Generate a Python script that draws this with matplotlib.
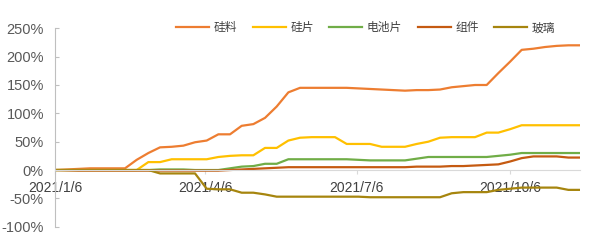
import numpy as np
import pandas as pd
import matplotlib
matplotlib.use('Agg')
import matplotlib.pyplot as plt
import matplotlib.dates as mdates
from matplotlib.ticker import FuncFormatter

plt.rcParams['font.family'] = ['Liberation Sans', 'Noto Sans CJK SC']

# weekly price change since 2021/1/6, in percent
dates = pd.date_range('2021-01-06', periods=46, freq='7D')

silicon = [0, 1, 2, 3, 3, 3, 3, 18, 30, 40, 41, 43, 49, 52, 63, 63,
           78, 81, 92, 112, 137, 145, 145, 145, 145, 145, 144, 143, 142, 141, 140, 141,
           141, 142, 146, 148, 150, 150, 171, 191, 212, 214, 217, 219, 220, 220]
wafer = [0, 0, 0, 0, 0, 0, 0, 0, 14, 14, 19, 19, 19, 19, 23, 25,
         26, 26, 39, 39, 52, 57, 58, 58, 58, 46, 46, 46, 41, 41, 41, 46,
         50, 57, 58, 58, 58, 66, 66, 72, 79, 79, 79, 79, 79, 79]
cell = [0, 0, 0, 0, 0, 0, 0, 0, 0, 1, 1, 1, 0, 0, 0, 3,
        6, 7, 11, 11, 19, 19, 19, 19, 19, 19, 18, 17, 17, 17, 17, 20,
        23, 23, 23, 23, 23, 23, 25, 27, 30, 30, 30, 30, 30, 30]
module = [0, -0.5, -1, -1, -1, -1, -1, -1, -1, -1, -1, -1, -1, -1, -1, 0,
          1, 2, 3, 4, 5, 5, 5, 5, 5, 5, 5, 5, 5, 5, 5, 6,
          6, 6, 7, 7, 8, 9, 10, 15, 21, 24, 24, 24, 22, 22]
glass = [0, 0, 0, 0, 0, 0, 0, 0, 0, -6, -6, -6, -6, -33, -34, -34,
         -40, -40, -43, -47, -47, -47, -47, -47, -47, -47, -47, -48, -48, -48, -48, -48,
         -48, -48, -41, -39, -39, -39, -35, -33, -31, -31, -31, -31, -35, -35]

names = ['硅料', '硅片', '电池片', '组件', '玻璃']
series = [silicon, wafer, cell, module, glass]
colors = ['#ED7D31', '#FFC000', '#70AD47', '#C55A11', '#A6850E']

tick_dates = pd.to_datetime(['2021-01-06', '2021-04-06', '2021-07-06', '2021-10-06'])

fig = plt.figure(figsize=(6.0, 2.43), dpi=100)
ax = fig.add_axes([0.0917, 0.067, 0.875, 0.8165])

for name, vals, c in zip(names, series, colors):
    ax.plot(dates, vals, color=c, linewidth=1.6, label=name)

ax.set_xlim(dates[0], dates[-1])
ax.set_ylim(-100, 250)
ax.set_yticks(np.arange(-100, 251, 50))
ax.yaxis.set_major_formatter(FuncFormatter(lambda v, p: f'{v:.0f}%'))
ax.set_xticks(tick_dates)
ax.xaxis.set_major_formatter(mdates.DateFormatter('%Y/%-m/%-d'))

ax.spines['top'].set_visible(False)
ax.spines['right'].set_visible(False)
ax.spines['bottom'].set_position(('data', 0))
ax.spines['bottom'].set_color('#D9D9D9')
ax.spines['left'].set_color('#BFBFBF')
ax.tick_params(axis='y', direction='in', length=3, color='#BFBFBF',
               labelsize=10.5, labelcolor='#595959', pad=8)
ax.tick_params(axis='x', direction='out', length=3, color='#D9D9D9',
               labelsize=10, labelcolor='#404040', pad=5)

ax.legend(loc='center', bbox_to_anchor=(0.5917, 1.0), ncol=5, frameon=False,
          fontsize=8.5, handlelength=2.8, handletextpad=0.4, columnspacing=1.3,
          labelcolor='#404040')

fig.savefig('out.png', dpi=100)
